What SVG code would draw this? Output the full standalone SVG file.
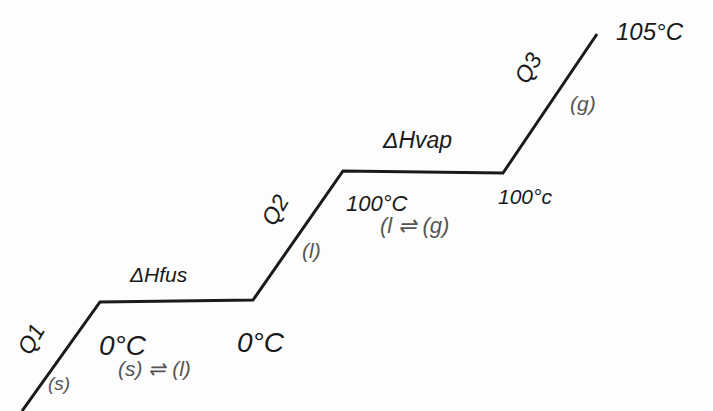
<svg xmlns="http://www.w3.org/2000/svg" width="713" height="411" viewBox="0 0 713 411">
<style>
.t{font-family:"Liberation Sans",Arial,sans-serif;fill:#1a1a1a;font-style:italic}
.g{fill:#555}
</style>
<rect width="713" height="411" fill="#fdfdfd"/>
<g id="connectors">
<polyline points="22,411 100,302 253,300 343,171 503,173 597,34" fill="none" stroke="#1a1a1a" stroke-width="3" stroke-linejoin="miter"/>
</g>
<g id="seg1">
<text class="t" font-size="23" transform="translate(38,343) rotate(-60)" text-anchor="middle">Q1</text>
<text class="t g" font-size="19" x="48" y="390">(s)</text>
</g>
<g id="fusion">
<text class="t" font-size="21" x="130" y="282">ΔHfus</text>
<text class="t" font-size="28" x="99" y="355">0°C</text>
<text class="t g" font-size="21" x="118" y="376">(s) ⇌ (l)</text>
<text class="t" font-size="28" x="237" y="352">0°C</text>
</g>
<g id="seg2">
<text class="t" font-size="23" transform="translate(282,214) rotate(-60)" text-anchor="middle">Q2</text>
<text class="t g" font-size="21" x="302" y="258">(l)</text>
</g>
<g id="vaporization">
<text class="t" font-size="23" x="383" y="148">ΔHvap</text>
<text class="t" font-size="22" x="346" y="211">100°C</text>
<text class="t g" font-size="22" x="380" y="233">(l ⇌ (g)</text>
<text class="t" font-size="21" x="498" y="204">100°c</text>
</g>
<g id="seg3">
<text class="t" font-size="23" transform="translate(535,72) rotate(-60)" text-anchor="middle">Q3</text>
<text class="t g" font-size="21" x="570" y="111">(g)</text>
<text class="t" font-size="24" x="616" y="40">105°C</text>
</g>
</svg>
